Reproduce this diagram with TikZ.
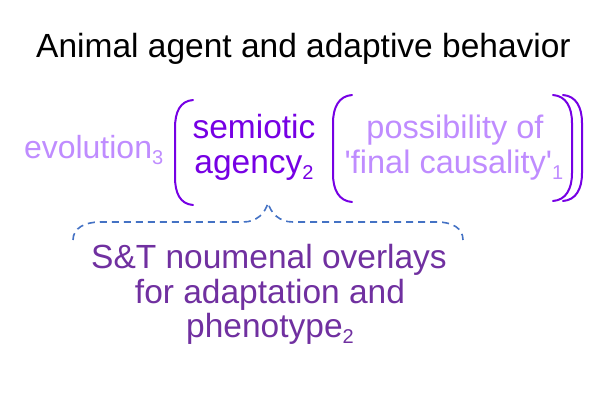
\documentclass[tikz,border=0pt]{standalone}
\usepackage{fontspec}
\setmainfont{Liberation Sans}
\definecolor{lightpurp}{RGB}{191,140,255}
\definecolor{darkpurp}{RGB}{118,0,228}
\definecolor{deeppurp}{RGB}{112,48,160}
\definecolor{braceblue}{RGB}{68,114,196}
\newcommand\sbsc[1]{\raisebox{-6.5pt}{\fontsize{20}{20}\selectfont #1}}
\tikzset{
  txt/.style={inner sep=0pt, outer sep=0pt, anchor=base},
  evof/.style={font=\fontsize{32}{35}\selectfont},
  posf/.style={font=\fontsize{32.5}{35}\selectfont},
  bigt/.style={font=\fontsize{33.5}{36}\selectfont},
  paren/.style={draw=darkpurp, line width=2pt, line cap=round},
  bracestyle/.style={draw=braceblue, line width=1.6pt, dash pattern=on 7pt off 5pt}
}
\begin{document}
\begin{tikzpicture}[x=1pt,y=-1pt]
\useasboundingbox (0,0) rectangle (600,400);
% title
\node[txt, bigt, text=black] (title) at (303.5,57) {Animal agent and adaptive behavior};
% evolution
\node[txt, evof, text=lightpurp, anchor=base west] (evo) at (24,158) {evolution\sbsc{3}};
% semiotic agency
\node[txt, bigt, text=darkpurp] (sem1) at (254,138) {semiotic};
\node[txt, bigt, text=darkpurp] (sem2) at (254,173) {agency\sbsc{2}};
% possibility
\node[txt, posf, text=lightpurp] (pos1) at (455,138) {possibility of};
\node[txt, posf, text=lightpurp] (pos2) at (454,173) {\textquotesingle final causality\textquotesingle\sbsc{1}};
% parentheses
\draw[paren] (193,100) .. controls (180,101) and (175,112) .. (175,128) -- (175,177) .. controls (175,193) and (180,204) .. (193,205);
\draw[paren] (352,95) .. controls (339,96) and (333,107) .. (333,123) -- (333,174) .. controls (333,190) and (339,201) .. (352,202);
\draw[paren] (553,95) .. controls (566,96) and (572,107) .. (572,123) -- (572,173) .. controls (572,189) and (566,200) .. (553,201);
\draw[paren] (563,95) .. controls (576,96) and (582,107) .. (582,123) -- (582,173) .. controls (582,189) and (576,200) .. (563,201);
% brace
\coordinate (bl) at (73,240);
\coordinate (tip) at (268,203);
\coordinate (br) at (463,240);
\draw[bracestyle] (bl) .. controls (73,228) and (85,222) .. (100,222) -- (243,222) .. controls (257,222) and (265,213) .. (tip) .. controls (271,213) and (279,222) .. (293,222) -- (437,222) .. controls (452,222) and (463,228) .. (br);
% bottom text
\node[txt, bigt, text=deeppurp] (b1) at (269,268) {S\&T noumenal overlays};
\node[txt, bigt, text=deeppurp] (b2) at (270,303) {for adaptation and};
\node[txt, bigt, text=deeppurp] (b3) at (270,337) {phenotype\sbsc{2}};
\end{tikzpicture}
\end{document}
